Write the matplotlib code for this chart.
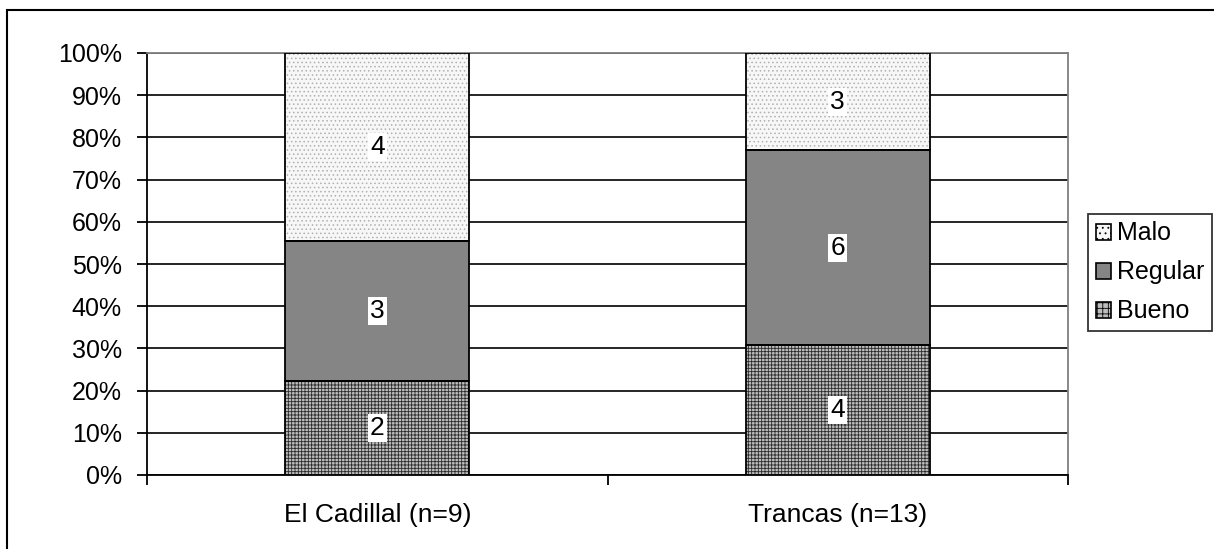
import matplotlib
matplotlib.use("Agg")
import matplotlib.pyplot as plt
import matplotlib.patches as mpatches
import numpy as np

plt.rcParams['font.family'] = ['Liberation Sans', 'DejaVu Sans']
plt.rcParams['hatch.linewidth'] = 0.6

categories = ["El Cadillal (n=9)", "Trancas (n=13)"]
series = ["Bueno", "Regular", "Malo"]
bueno = [2, 4]
regular = [3, 6]
malo = [4, 3]
yticklabels = ["0%", "10%", "20%", "30%", "40%", "50%", "60%", "70%", "80%", "90%", "100%"]

counts = np.array([bueno, regular, malo], dtype=float)
totals = counts.sum(axis=0)
pct = counts / totals * 100

W, H = 1214, 549
fig = plt.figure(figsize=(W / 100, H / 100), dpi=100)
ax = fig.add_axes([147 / W, 1 - 475 / H, (1068 - 147) / W, (475 - 53) / H])

styles = [
    dict(facecolor="#bdbdbd", hatch="+++++", edgecolor="#2a2a2a"),
    dict(facecolor="#858585", hatch="", edgecolor="#1a1a1a"),
    dict(facecolor="#f7f7f7", hatch="....", edgecolor="#b0b0b0"),
]

x = np.arange(len(categories))
bottom = np.zeros(len(categories))
handles = []
for i, name in enumerate(series):
    st = styles[i]
    ax.bar(x, pct[i], width=0.4, bottom=bottom, facecolor=st["facecolor"],
           hatch=st["hatch"], edgecolor=st["edgecolor"], linewidth=0, zorder=3)
    ax.bar(x, pct[i], width=0.4, bottom=bottom, facecolor="none",
           edgecolor="black", linewidth=1.3, zorder=4)
    for j in range(len(categories)):
        ax.text(x[j], bottom[j] + pct[i][j] / 2, f"{int(counts[i][j])}", ha="center",
                va="center", fontsize=19, zorder=5,
                bbox=dict(facecolor="white", edgecolor="none", pad=1.5))
    handles.append(mpatches.Patch(facecolor=st["facecolor"], hatch=st["hatch"][:3],
                                  edgecolor="black", linewidth=1.2, label=name))
    bottom += pct[i]

ax.set_xlim(-0.5, 1.5)
ax.set_ylim(0, 100)
ax.set_yticks(np.arange(0, 101, 10))
ax.set_yticklabels(yticklabels, fontsize=18)
ax.yaxis.grid(True, color="black", linewidth=1.2, zorder=0)
ax.set_axisbelow(True)
ax.set_xticks([-0.5, 0.5, 1.5])
ax.set_xticklabels([])
ax.set_xticks([0, 1], minor=True)
ax.set_xticklabels(categories, minor=True, fontsize=19)
ax.tick_params(axis="x", which="minor", length=0, pad=20)
ax.tick_params(axis="x", which="major", length=7, width=1.3, direction="out")
ax.tick_params(axis="y", length=7, width=1.3, direction="out", pad=11)
for s in ["top", "right"]:
    ax.spines[s].set_color("#808080")
    ax.spines[s].set_linewidth(1.3)
for s in ["left", "bottom"]:
    ax.spines[s].set_color("black")
    ax.spines[s].set_linewidth(1.3)

leg = fig.legend(handles[::-1], [h.get_label() for h in handles[::-1]],
                 loc="upper left", bbox_to_anchor=(1088 / W, 1 - 214 / H),
                 fontsize=18, frameon=True, fancybox=False, edgecolor="black",
                 handlelength=0.6, handleheight=0.6, handletextpad=0.25,
                 borderpad=0.3, borderaxespad=0, labelspacing=0.6)
leg.get_frame().set_linewidth(1.3)

fig.patches.append(mpatches.Rectangle((7 / W, -0.05), 1.2, 1 - 10 / H + 0.05,
                                      transform=fig.transFigure, fill=False,
                                      edgecolor="black", linewidth=1.5))

fig.savefig("out.png", dpi=100, facecolor="white")
